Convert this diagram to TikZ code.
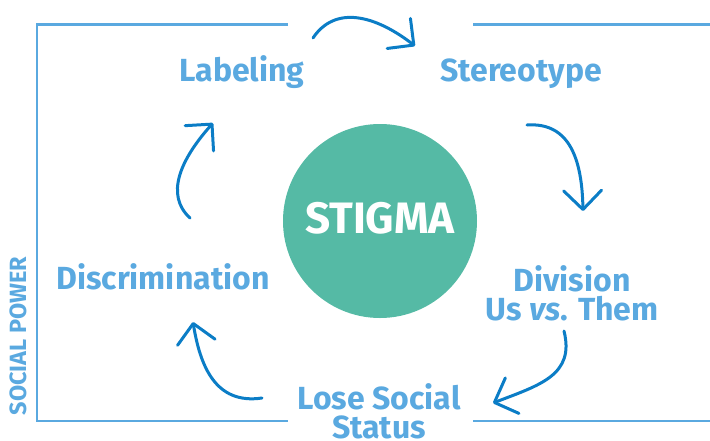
\documentclass[tikz,border=0pt]{standalone}
\usepackage{fontspec}
\setmainfont{Fira Sans}
\usetikzlibrary{arrows.meta}
\definecolor{txtblue}{HTML}{5AA9E0}
\definecolor{arrblue}{HTML}{0B7DC6}
\definecolor{teal}{HTML}{55BAA5}
\tikzset{
  lbl/.style={text=txtblue, font=\bfseries\fontsize{32}{29}\selectfont, inner sep=0pt, align=center},
  framestyle/.style={draw=txtblue, line width=2.6pt},
  cyc/.style={draw=arrblue, line width=3pt, line cap=round,
    -{Straight Barb[length=19pt,width=38pt,round]}},
}
\begin{document}
\begin{tikzpicture}[x=1pt,y=-1pt]
\useasboundingbox (0,0) rectangle (710,440);
% frame
\draw[framestyle] (288,24.5) -- (37,24.5) -- (37,421) -- (288,421);
\draw[framestyle] (473,24.5) -- (710,24.5);
\draw[framestyle] (473,421) -- (710,421);
% circle
\node[circle, fill=teal, minimum size=194pt, inner sep=0pt] (stigma) at (380,221) {};
\node[text=white, font=\bfseries\fontsize{44}{44}\selectfont, inner sep=0pt, anchor=base] (stigmatxt) at (380,233) {STIGMA};
% labels
\node[lbl, anchor=base] (labeling) at (242,81) {Labeling};
\node[lbl, anchor=base] (stereo) at (521,81) {Stereotype};
\node[lbl, anchor=base] (discr) at (163,289) {Discrimination};
\node[lbl] (division) at (572,293) {Division\\Us \textit{vs}. Them};
\node[lbl, anchor=south] (lose) at (379,439) {Lose Social\\Status};
\node[text=txtblue, font=\bfseries\fontsize{23.5}{23.5}\selectfont, inner sep=0pt, rotate=90] (power) at (18,336) {SOCIAL POWER};
% arrow end points
\coordinate (a1s) at (313,38);  \coordinate (a1e) at (415,46);
\coordinate (a2s) at (527,125); \coordinate (a2e) at (583,211);
\coordinate (a3s) at (564,331); \coordinate (a3e) at (493,403);
\coordinate (a4s) at (262,398); \coordinate (a4e) at (193,322);
\coordinate (a5s) at (190,218); \coordinate (a5e) at (213,123);
\draw[cyc] (a1s) .. controls (335,5) and (375,15) .. (a1e);
\draw[cyc] (a2s) .. controls (570,122) and (582,160) .. (a2e);
\draw[cyc] (a3s) .. controls (575,375) and (540,385) .. (a3e);
\draw[cyc] (a4s) .. controls (215,405) and (200,365) .. (a4e);
\draw[cyc] (a5s) .. controls (165,195) and (180,160) .. (a5e);
\end{tikzpicture}
\end{document}
